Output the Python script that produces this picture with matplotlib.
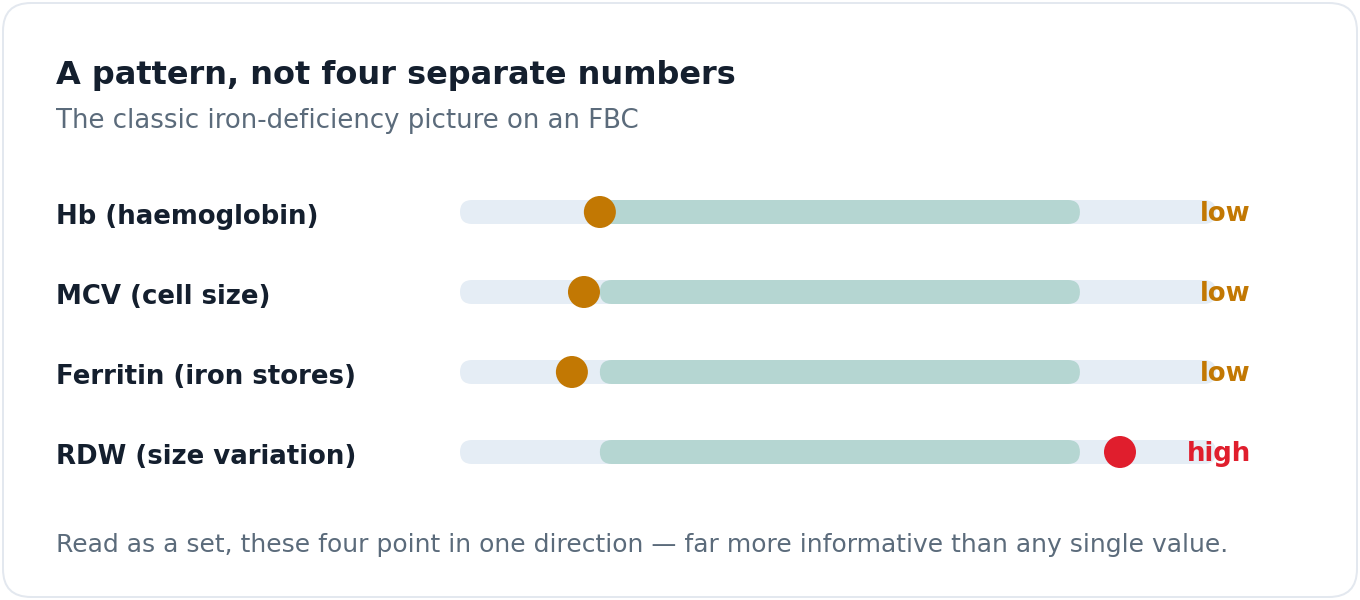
"""
Range strip card: four FBC markers against their reference ranges.
"""

import matplotlib

matplotlib.use("Agg")
import matplotlib.pyplot as plt
from matplotlib.patches import FancyBboxPatch, Circle

plt.rcParams["font.family"] = ["DejaVu Sans"]

# data (positions on a 0-100 track scale)
markers = ["Hb (haemoglobin)", "MCV (cell size)", "Ferritin (iron stores)", "RDW (size variation)"]
values = [18.5, 16.4, 14.8, 87.3]
ref_low = [18.5, 18.5, 18.5, 18.5]
ref_high = [82.0, 82.0, 82.0, 82.0]
flags = ["low", "low", "low", "high"]

title = "A pattern, not four separate numbers"
subtitle = "The classic iron-deficiency picture on an FBC"
footer = "Read as a set, these four point in one direction \u2014 far more informative than any single value."

# colours
ink = "#141f2e"
muted = "#5b6b7b"
track_col = "#e5edf5"
ref_col = "#b5d6d2"
flag_cols = {"low": "#c27803", "high": "#e01e2d"}

W, H = 1360, 600
PX = 0.72  # px -> pt at dpi 100

# layout in pixels
track_x0, track_w, track_h = 460, 756, 24
row_y0, row_step = 212, 80
dot_r = 16


def sx(v):
    return track_x0 + v / 100 * track_w


fig = plt.figure(figsize=(W / 100, H / 100), dpi=100)
ax = fig.add_axes([0, 0, 1, 1])
ax.set_xlim(0, W)
ax.set_ylim(H, 0)
ax.axis("off")

card = FancyBboxPatch((3, 3), W - 6, H - 6, boxstyle="round,pad=0,rounding_size=28",
                      facecolor="white", edgecolor="#e3e8ef", lw=2 * PX)
ax.add_patch(card)

ax.text(56, 84, title, fontsize=32 * PX, fontweight="bold", color=ink, va="baseline")
ax.text(56, 128, subtitle, fontsize=26 * PX, color=muted, va="baseline")

for i, name in enumerate(markers):
    y = row_y0 + i * row_step
    ax.text(56, y + 12, name, fontsize=26 * PX, fontweight="bold", color=ink, va="baseline")

    ax.add_patch(FancyBboxPatch((track_x0, y - track_h / 2), track_w, track_h,
                                boxstyle="round,pad=0,rounding_size=12",
                                facecolor=track_col, edgecolor="none", zorder=1))
    x_lo, x_hi = sx(ref_low[i]), sx(ref_high[i])
    ax.add_patch(FancyBboxPatch((x_lo, y - track_h / 2), x_hi - x_lo, track_h,
                                boxstyle="round,pad=0,rounding_size=12",
                                facecolor=ref_col, edgecolor="none", zorder=2))
    col = flag_cols[flags[i]]
    ax.add_patch(Circle((sx(values[i]), y), dot_r, facecolor=col, edgecolor="none", zorder=3))
    ax.text(1251, y + 9, flags[i], fontsize=26 * PX, fontweight="bold", color=col,
            ha="right", va="baseline", zorder=4)

ax.text(56, 552, footer, fontsize=25 * PX, color=muted, va="baseline")

fig.savefig("out.png", dpi=100, facecolor="white")
